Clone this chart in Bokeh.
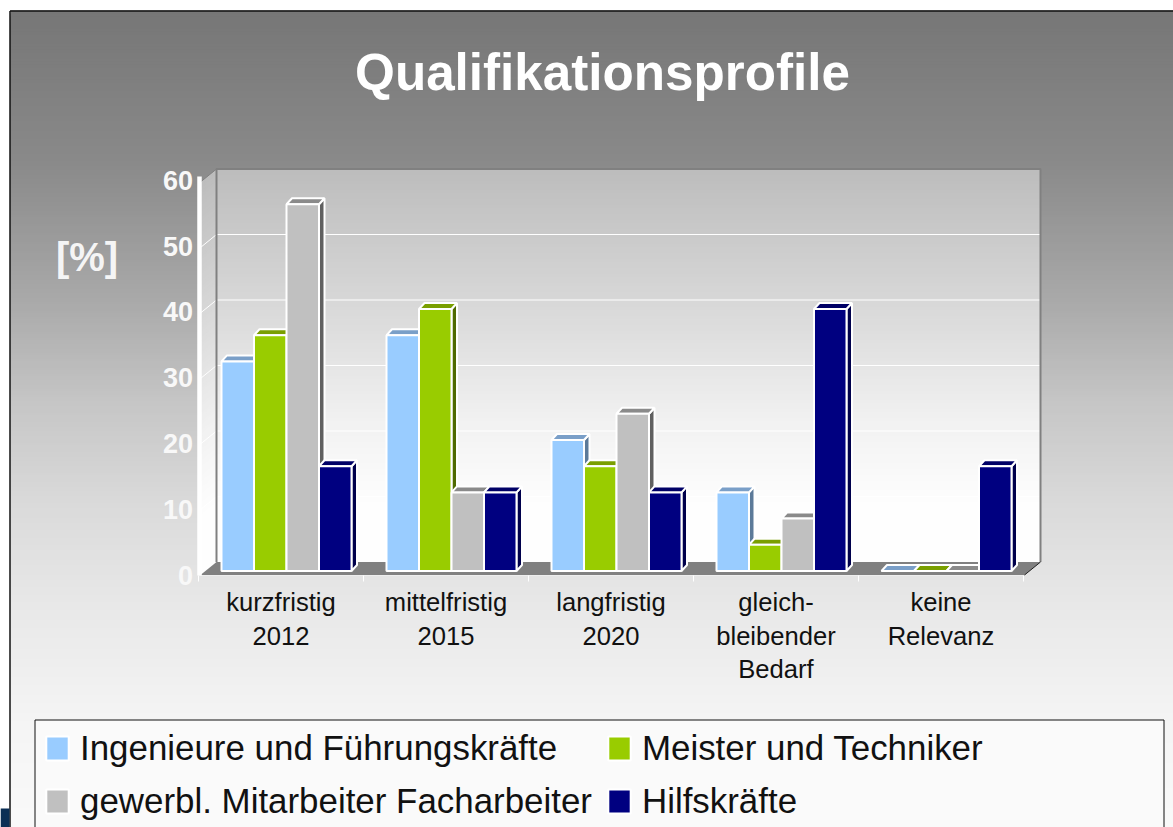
import numpy as np
from bokeh.plotting import figure
from bokeh.models import (Range1d, LinearAxis, FixedTicker, Label, Legend, LegendItem)
from bokeh.embed import file_html
from bokeh.resources import INLINE

categories = ["kurzfristig\n2012", "mittelfristig\n2015", "langfristig\n2020",
              "gleich-\nbleibender\nBedarf", "keine\nRelevanz"]
series_names = ["Ingenieure und Führungskräfte", "Meister und Techniker",
                "gewerbl. Mitarbeiter Facharbeiter", "Hilfskräfte"]
ingenieure = [32, 36, 20, 12, 0]
meister = [36, 40, 16, 4, 0]
gewerbl = [56, 12, 24, 8, 0]
hilfskraefte = [16, 12, 12, 40, 16]
y_ticks = [0, 10, 20, 30, 40, 50, 60]

front = ["#99CCFF", "#99CC00", "#C0C0C0", "#000080"]
top = ["#7A9FC8", "#7A9F00", "#8A8A8A", "#000066"]
side = ["#5C7A99", "#4F6A00", "#606060", "#00004C"]

W, H = 1173, 827
SLOT = 165.0
SCALE = 6.55
X0, Y0 = 280.5, 570.5     # page position of first category centre / bar base


def fx(px):
    return (np.asarray(px, dtype=float) - X0) / SLOT


def fy(py):
    return (Y0 - np.asarray(py, dtype=float)) / SCALE


p = figure(width=W, height=H, output_backend="svg", toolbar_location=None,
           x_range=Range1d(float(fx(0)), float(fx(W))),
           y_range=Range1d(float(fy(H)), float(fy(0))),
           x_axis_location=None, y_axis_location=None,
           min_border=0, outline_line_color=None, border_fill_color="white",
           background_fill_color="white")
p.grid.visible = False

AX_ZERO, AX_SCALE = 574.5, 6.58
p.extra_y_ranges["ax"] = Range1d((AX_ZERO - H) / AX_SCALE, AX_ZERO / AX_SCALE)

# slide background gradient
sy = np.array([10, 160, 300, 400, 500, 600, 720, 827])
sv = np.array([119, 138, 170, 198, 218, 232, 245, 250])
rows = np.arange(10, H, 3)
vals = np.interp(rows, sy, sv).astype(int)
p.quad(left=float(fx(10)), right=float(fx(W)), top=fy(rows), bottom=float(fy(H)),
       fill_color=[f"#{v:02x}{v:02x}{v:02x}" for v in vals], line_color=None)
# slide frame
p.segment(x0=[float(fx(9.5)), float(fx(9.5))], y0=[float(fy(10.5)), float(fy(10.5))],
          x1=[float(fx(W)), float(fx(9.5))], y1=[float(fy(10.5)), float(fy(H))],
          line_color="#111111", line_width=1.5)
p.quad(left=float(fx(0)), right=float(fx(9)), top=float(fy(808)), bottom=float(fy(H)),
       fill_color="#0B2F55", line_color=None)

# 3D chamber
BL, BR, BT, BB = 216, 1040, 168.5, 561.5
DX, DY = 16, 13
wy = np.arange(BT, BB, 3)
wv = np.interp(wy, [168, 300, 420, 500, 562], [189, 216, 242, 254, 255]).astype(int)
wc = [f"#{v:02x}{v:02x}{v:02x}" for v in wv]
p.quad(left=float(fx(BL)), right=float(fx(BR)), top=fy(wy), bottom=float(fy(BB)),
       fill_color=wc, line_color=None)
# side wall
p.patches(xs=[fx([BL - DX, BL, BL, BL - DX]).tolist() for _ in wy],
          ys=[fy([y + DY, y, BB, BB + DY]).tolist() for y in wy],
          fill_color=wc, line_color=None)
# grid lines
back_y = BB - np.array(y_ticks[1:-1]) * 6.55
p.segment(x0=float(fx(BL)), x1=float(fx(BR)), y0=fy(back_y), y1=fy(back_y),
          line_color="white", line_width=1)
p.segment(x0=float(fx(BL - DX)), x1=float(fx(BL)), y0=fy(back_y + DY), y1=fy(back_y),
          line_color="white", line_width=1)
# wall edges
p.line(x=fx([BL, BL, BR, BR]), y=fy([BB, BT, BT, BB]), line_color="#808080", line_width=2)
p.line(x=fx([BL - DX, BL]), y=fy([BT + DY, BT]), line_color="#808080", line_width=1)
# floor
p.patch(x=fx([BL - DX, BL, BR, BR - DX]), y=fy([BB + DY, BB, BB, BB + DY]),
        fill_color="#808080", line_color=None)
p.line(x=fx([BR - DX, BR]), y=fy([BB + DY, BB]), line_color="#222222", line_width=1)

# bars
BAR = 32.5
GROUP_SHIFT = 5.5
D_X, D_Y = 5.5, 6.0
cols = [ingenieure, meister, gewerbl, hilfskraefte]
fronts = []
for j, col in enumerate(cols):
    centre = np.arange(len(col)) + (GROUP_SHIFT + (j - 1.5) * BAR) / SLOT
    hw = BAR / SLOT / 2
    dx, dy = D_X / SLOT, D_Y / SCALE
    side_x = [[c + hw, c + hw + dx, c + hw + dx, c + hw] for c in centre]
    side_y = [[0, dy, v + dy, v] for v in col]
    top_x = [[c - hw, c - hw + dx, c + hw + dx, c + hw] for c in centre]
    top_y = [[v, v + dy, v + dy, v] for v in col]
    p.patches(xs=side_x, ys=side_y, fill_color=side[j], line_color="white", line_width=2)
    p.patches(xs=top_x, ys=top_y, fill_color=top[j], line_color="white", line_width=2)
    r = p.vbar(x=centre, top=col, bottom=0, width=BAR / SLOT, fill_color=front[j],
               line_color="white", line_width=2)
    fronts.append(r)

# axes
yaxis = LinearAxis(y_range_name="ax", fixed_location=float(fx(198.5)),
                   ticker=FixedTicker(ticks=y_ticks), bounds=(0, 60.5),
                   axis_line_color="white", axis_line_width=4.5,
                   major_tick_line_color=None, minor_tick_line_color=None,
                   major_label_text_color="#F8F8F8", major_label_text_font="Liberation Sans",
                   major_label_text_font_style="bold", major_label_text_font_size="27px",
                   major_label_standoff=0)
p.add_layout(yaxis, "left")

xaxis = LinearAxis(fixed_location=float(fy(574.5)),
                   ticker=FixedTicker(ticks=list(range(5)),
                                      minor_ticks=[i - 0.5 for i in range(6)]),
                   major_label_overrides={i: c for i, c in enumerate(categories)},
                   bounds=(-0.5, 4.5),
                   axis_line_color="#EDEDED", axis_line_width=1,
                   major_tick_line_color=None, minor_tick_line_color="white",
                   minor_tick_out=6, minor_tick_in=0,
                   major_label_text_color="#111111", major_label_text_font="Liberation Sans",
                   major_label_text_font_size="25.6px", major_label_text_line_height=1.2,
                   major_label_standoff=7)
p.add_layout(xaxis, "below")

# title and unit
p.add_layout(Label(x=float(fx(602)), y=float(fy(72)), text="Qualifikationsprofile", text_color="white",
                   text_font="Liberation Sans", text_font_style="bold", text_font_size="51.2px",
                   text_align="center", text_baseline="middle"))
p.add_layout(Label(x=float(fx(86.5)), y=float(fy(256)), text="[%]", text_color="#F5F5F5",
                   text_font="Liberation Sans", text_font_style="bold", text_font_size="40px",
                   text_align="center", text_baseline="middle"))

# legend box and legend
p.quad(left=float(fx(34.5)), right=float(fx(1163.5)), top=float(fy(719.5)), bottom=float(fy(840)),
       fill_color="#FAFAFA", line_color="#111111", line_width=1)
order = [0, 2, 1, 3]
legend = Legend(items=[LegendItem(label=series_names[i], renderers=[fronts[i]]) for i in order],
                ncols=2, location=(43, 6), margin=0, padding=0, spacing=13,
                glyph_width=28, glyph_height=30, label_standoff=9, label_height=35,
                label_text_font="Liberation Sans", label_text_font_size="34.9px",
                label_text_color="#111111", background_fill_alpha=0, border_line_color=None)
p.add_layout(legend, "center")

open("out.html", "w").write(file_html(p, INLINE))
